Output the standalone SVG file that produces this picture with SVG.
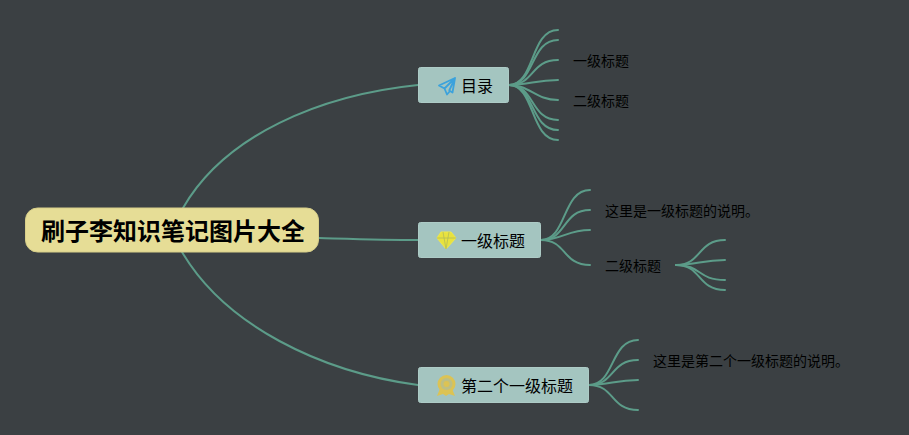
<svg xmlns="http://www.w3.org/2000/svg" width="909" height="435" viewBox="0 0 909 435">
<style>
text{font-family:"Noto Sans CJK SC","Noto Sans",sans-serif;fill:#000}
.t1{font-size:16px}.t2{font-size:14px}
.root{font-size:24px;font-weight:700}
.main{fill:#a4c5c0;stroke:#adcbc6;stroke-width:1}
.c{fill:none;stroke:#5c9c89;stroke-width:2;stroke-linecap:round}
</style>
<rect width="909" height="435" fill="#3b4043"/>
<g id="connectors">
<path class="c" d="M183 208C225 135 320 95 418 85"/>
<path class="c" d="M319 238C355 239 385 240 418 240"/>
<path class="c" d="M182 252C225 325 320 372 418 385"/>
<path class="c" d="M509 85C535 85 530 30 558 30"/>
<path class="c" d="M509 85C535 85 530 40 558 40"/>
<path class="c" d="M509 85C535 85 530 60 558 60"/>
<path class="c" d="M509 85C530 85 535 80 558 80"/>
<path class="c" d="M509 85C530 85 535 100 558 100"/>
<path class="c" d="M509 85C535 85 530 120 558 120"/>
<path class="c" d="M509 85C535 85 530 130 558 130"/>
<path class="c" d="M509 85C535 85 530 140 558 140"/>
<path class="c" d="M541 240C567 240 562 190 590 190"/>
<path class="c" d="M541 240C567 240 562 210 590 210"/>
<path class="c" d="M541 240C562 240 567 230 590 230"/>
<path class="c" d="M541 240C567 240 562 265 590 265"/>
<path class="c" d="M676 265C702 265 697 240 725 240"/>
<path class="c" d="M676 265C697 265 702 260 725 260"/>
<path class="c" d="M676 265C702 265 697 280 725 280"/>
<path class="c" d="M676 265C702 265 697 290 725 290"/>
<path class="c" d="M589 385C615 385 610 340 638 340"/>
<path class="c" d="M589 385C615 385 610 360 638 360"/>
<path class="c" d="M589 385C610 385 615 380 638 380"/>
<path class="c" d="M589 385C615 385 610 410 638 410"/>
</g>
<g id="root">
<rect x="25.500" y="208" width="293" height="44" rx="12" fill="#e6dd96" stroke="#d8cf8a"/>
<text class="root" x="41" y="240">刷子李知识笔记图片大全</text>
</g>
<g id="node-toc">
<rect class="main" x="418.500" y="67.500" width="90" height="35" rx="2"/>
<path d="M455 78L439 85.500L444.500 88.500L447 94.500L450 91L452.500 92.500ZM455 78L444.500 88.500M455 78L449 91" fill="none" stroke="#3ba2dc" stroke-width="1.800" stroke-linejoin="round"/>
<text class="t1" x="461" y="92">目录</text>
</g>
<g id="node-first">
<rect class="main" x="418.500" y="222.500" width="122" height="35" rx="2"/>
<path d="M441 232H451L456 238L446 249L437 238Z" fill="#e8e23e" stroke="#efe84a"/>
<path d="M437 238H456M443 232L446 249L449 232" fill="none" stroke="#b4bc58" stroke-width="0.800"/>
<text class="t1" x="461" y="247">一级标题</text>
</g>
<g id="node-second">
<rect class="main" x="418.500" y="367.500" width="170" height="35" rx="2"/>
<path d="M441 386L437 396L443 394L446 396L449 394L455 396L451 386Z" fill="#dcc354"/>
<circle cx="446.500" cy="384" r="9" fill="#dcc354"/>
<circle cx="446.500" cy="384" r="6" fill="#bdbf84"/>
<circle cx="446.500" cy="384" r="3" fill="#dcc354"/>
<text class="t1" x="461" y="392">第二个一级标题</text>
</g>
<g id="label-toc-1"><text class="t2" x="573" y="66">一级标题</text></g>
<g id="label-toc-2"><text class="t2" x="573" y="106">二级标题</text></g>
<g id="label-first-1"><text class="t2" x="605" y="216">这里是一级标题的说明。</text></g>
<g id="label-first-2"><text class="t2" x="605" y="271">二级标题</text></g>
<g id="label-second-1"><text class="t2" x="653" y="366">这里是第二个一级标题的说明。</text></g>
</svg>
